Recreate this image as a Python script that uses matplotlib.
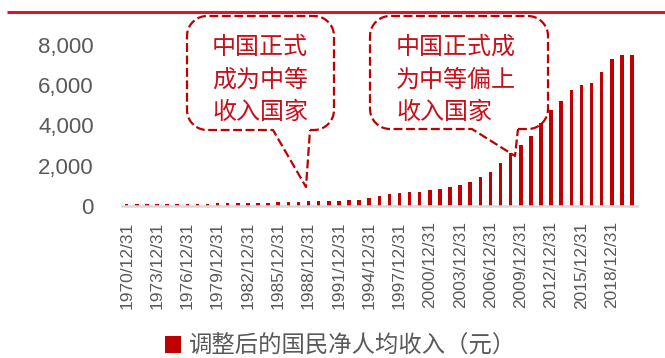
import numpy as np
import matplotlib
matplotlib.use("Agg")
import matplotlib.pyplot as plt
from matplotlib.ticker import FuncFormatter
from matplotlib.font_manager import FontProperties

# ---- data ----
years = list(range(1970, 2021))
values = [80, 85, 95, 105, 110, 120, 110, 120, 115, 130,
          135, 130, 135, 150, 170, 200, 220, 210, 230, 240,
          240, 260, 300, 310, 400, 490, 590, 640, 680, 700,
          790, 840, 940, 1050, 1210, 1420, 1670, 2140, 2650, 3010,
          3460, 4100, 4760, 5220, 5760, 6010, 6090, 6670, 7320, 7490,
          7490]
tick_years = years[::3][:17]
tick_labels = [f"{y}/12/31" for y in tick_years]
yticks = [0, 2000, 4000, 6000, 8000]
series_name = "调整后的国民净人均收入（元）"
note1 = ["中国正式", "成为中等", "收入国家"]
note2 = ["中国正式成", "为中等偏上", "收入国家"]

BAR = "#C00000"
GRAY = "#595959"
CJK = ["Noto Sans CJK SC", "DejaVu Sans"]

W, H = 665, 358
fig = plt.figure(figsize=(W / 100, H / 100), dpi=100)
ax = fig.add_axes([121.6 / W, (H - 206) / H, (637 - 121.6) / W, (206 - 45) / H])

x = np.arange(len(years))
ax.bar(x, values, width=0.35, color=BAR, label=series_name, zorder=2)
ax.set_xlim(-0.5, len(years) - 0.5)
ax.set_ylim(0, 8000)
ax.set_yticks(yticks)
ax.yaxis.set_major_formatter(FuncFormatter(lambda v, p: f"{int(v):,}"))
ax.set_xticks([years.index(y) for y in tick_years])
ax.set_xticklabels(tick_labels, rotation=90, fontfamily="Liberation Sans",
                   fontsize=12.5, color=GRAY)
for lab in ax.get_yticklabels():
    lab.set_fontfamily("Liberation Sans")
    lab.set_fontsize(16)
    lab.set_color(GRAY)
ax.tick_params(axis="y", length=0, pad=20)
ax.tick_params(axis="x", length=0, pad=11)
for s in ["top", "right", "left"]:
    ax.spines[s].set_visible(False)
ax.spines["bottom"].set_color("#D9D9D9")
ax.spines["bottom"].set_linewidth(1.8)
ax.patch.set_alpha(0)

leg = fig.legend(loc="center", bbox_to_anchor=(341 / W, 1 - 346 / H), frameon=False,
                 prop=FontProperties(family=CJK, size=16.8), labelcolor=GRAY,
                 handlelength=0.68, handleheight=0.72, handletextpad=0.35)

# ---- overlay for annotations ----
ov = fig.add_axes([0, 0, 1, 1], zorder=5)
ov.set_xlim(0, W)
ov.set_ylim(H, 0)
ov.axis("off")
ov.patch.set_alpha(0)

ov.plot([7, W], [11.5, 11.5], color="#E8102A", lw=2.2, solid_capstyle="butt")


def arc(cx, cy, r, a0, a1, n=12):
    a = np.radians(np.linspace(a0, a1, n))
    return list(cx + r * np.cos(a)), list(cy + r * np.sin(a))


def callout(x0, x1, y0, y1, r, bl, br, tip):
    xs, ys = [br], [y1]
    for (cx, cy, a0, a1) in [(x1 - r, y1 - r, 90, 0), (x1 - r, y0 + r, 0, -90),
                             (x0 + r, y0 + r, -90, -180), (x0 + r, y1 - r, 180, 90)]:
        ax_, ay_ = arc(cx, cy, r, a0, a1)
        xs += ax_
        ys += ay_
    xs += [bl, tip[0], br]
    ys += [y1, tip[1], y1]
    ov.plot(xs, ys, color=BAR, lw=1.6, ls=(0, (4, 1.6)))


callout(187, 334, 16, 130, 20, 273, 310, (306, 187))
callout(370, 548, 16, 129, 20, 472, 518, (515, 156))

for i, line in enumerate(note1):
    ov.text(212, 47 + i * 32.5, line, fontsize=17.3, family=CJK, color="#C8101A",
            ha="left", va="center")
for i, line in enumerate(note2):
    ov.text(396, 47 + i * 32.5, line, fontsize=17.3, family=CJK, color="#C8101A",
            ha="left", va="center")

fig.savefig("out.png", dpi=100)
